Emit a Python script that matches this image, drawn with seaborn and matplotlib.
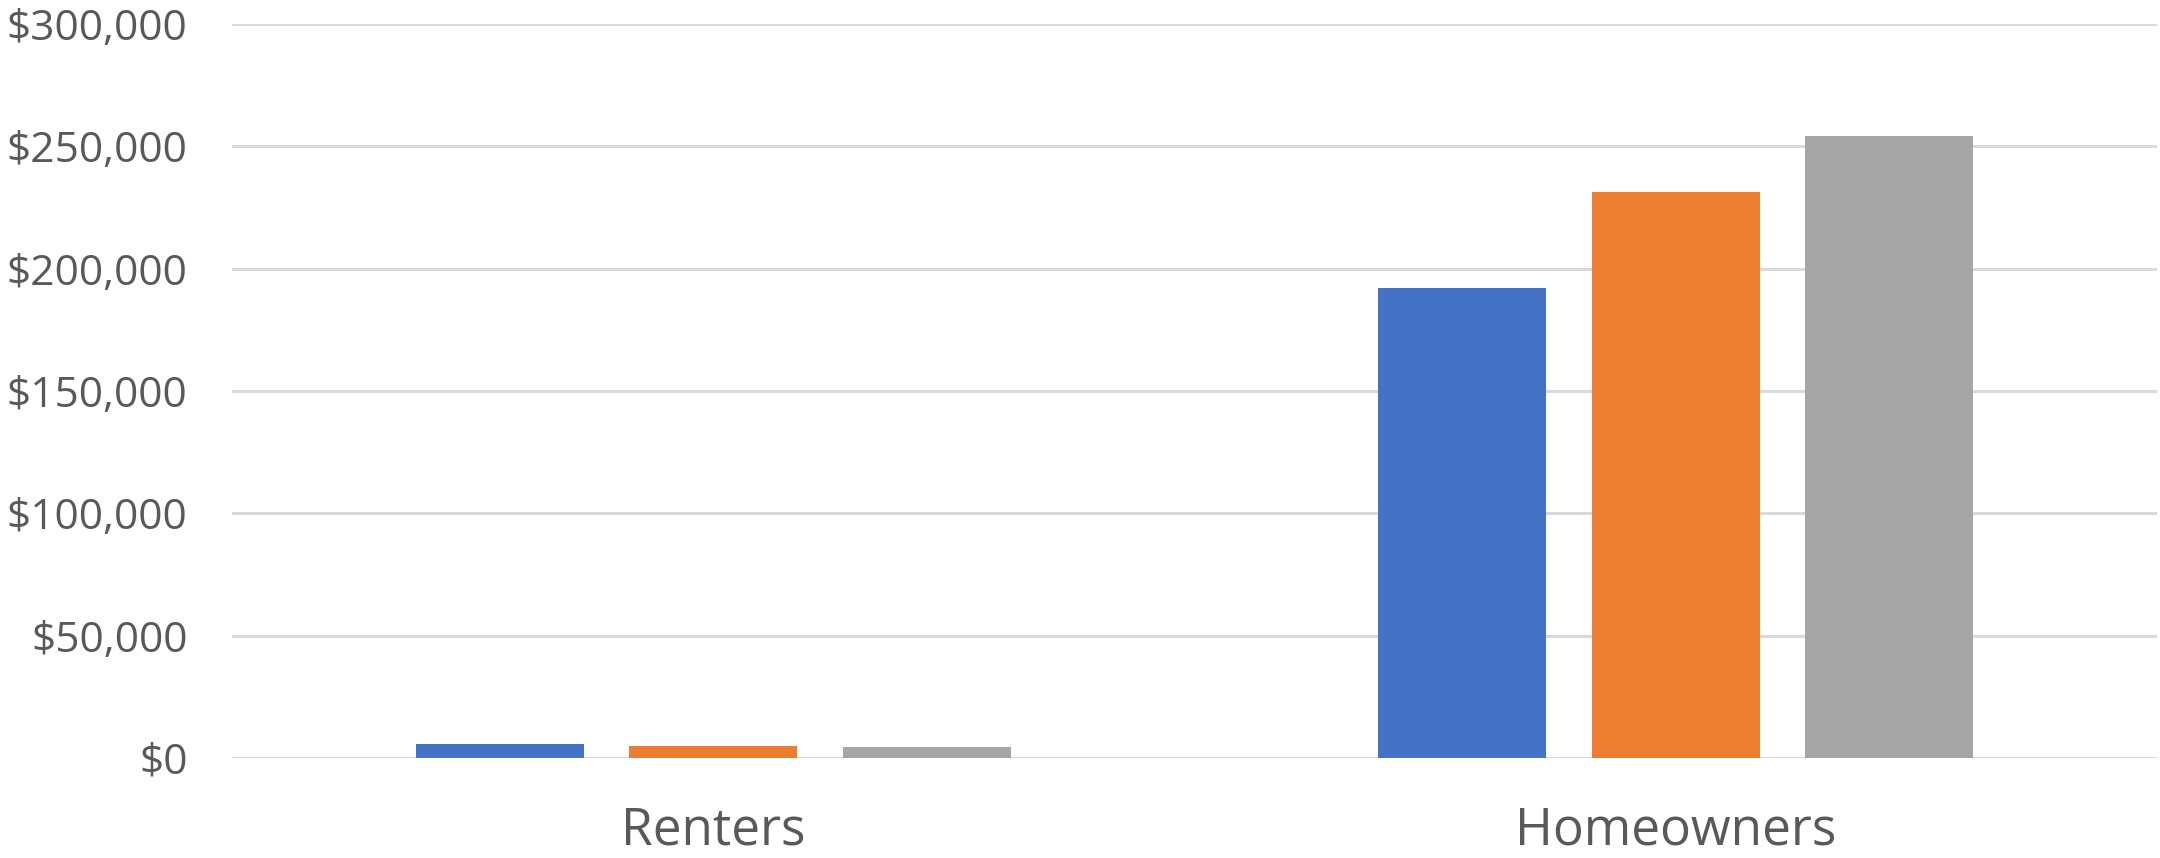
import matplotlib
matplotlib.use("Agg")
import matplotlib.pyplot as plt
import seaborn as sns
import pandas as pd
from matplotlib.ticker import FuncFormatter

categories = ["Renters", "Homeowners"]
series_names = ["Series 1", "Series 2", "Series 3"]
series1 = [5600, 192200]
series2 = [4800, 231400]
series3 = [4700, 254300]
colors = ["#4472C4", "#ED7D31", "#A5A5A5"]
yticks = [0, 50000, 100000, 150000, 200000, 250000, 300000]

rows = []
for name, vals in zip(series_names, [series1, series2, series3]):
    for cat, v in zip(categories, vals):
        rows.append({"category": cat, "series": name, "value": v})
df = pd.DataFrame(rows)

sns.set_theme(style="white")
plt.rcParams["font.family"] = ["Open Sans", "DejaVu Sans"]

fig = plt.figure(figsize=(21.6, 8.58), dpi=100)
ax = fig.add_axes([232 / 2160, 1 - 758 / 858, (2157 - 232) / 2160, (758 - 24) / 858])

sns.barplot(data=df, x="category", y="value", hue="series", order=categories,
            hue_order=series_names, palette=colors, width=0.665, gap=0.213,
            legend=False, ax=ax, saturation=1, linewidth=0, zorder=3)

ax.set_ylim(0, 300000)
ax.set_yticks(yticks)
ax.yaxis.set_major_formatter(FuncFormatter(lambda v, p: "${:,.0f}".format(v)))
ax.grid(axis="y", color="#D9D9D9", linewidth=2.2, zorder=0)
ax.grid(axis="x", visible=False)
ax.set_axisbelow(True)
for s in ax.spines.values():
    s.set_visible(False)
ax.set_xlabel("")
ax.set_ylabel("")
ax.tick_params(axis="y", length=0, pad=32, labelsize=30.5, labelcolor="#595959")
ax.tick_params(axis="x", length=0, pad=34, labelsize=37, labelcolor="#595959")

fig.savefig("out.png", dpi=100, facecolor="white")
